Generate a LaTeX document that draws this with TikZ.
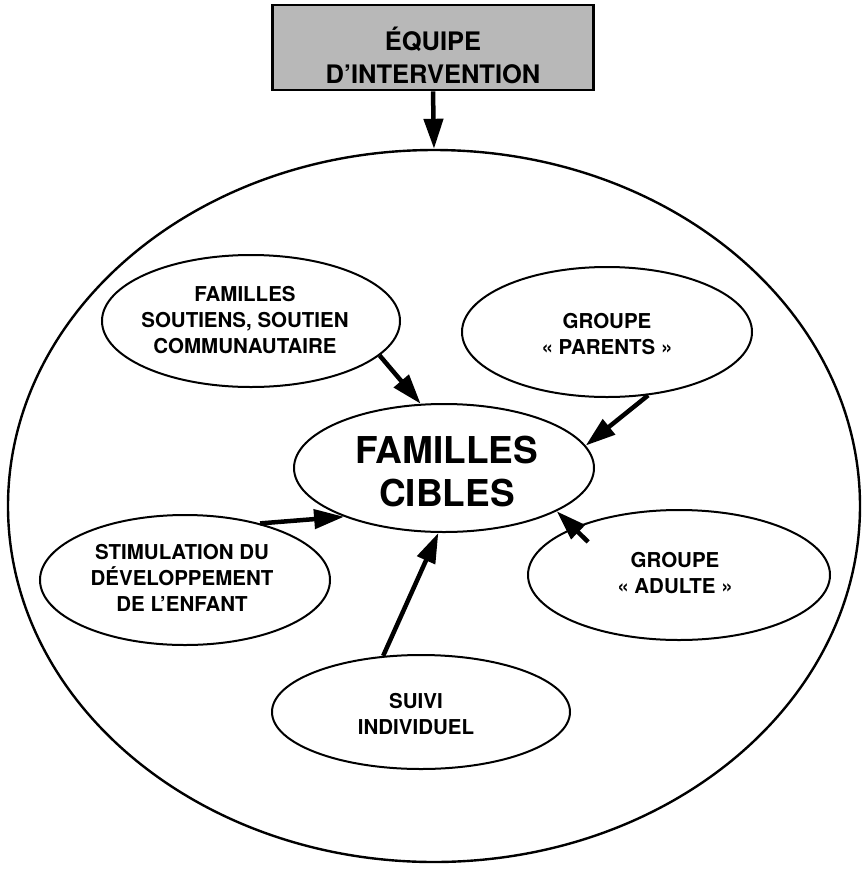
\documentclass[tikz,border=0pt]{standalone}
\usepackage{fontspec}
\setmainfont{TeX Gyre Heros}
\usetikzlibrary{shapes.geometric,arrows.meta,calc}
\begin{document}
\begin{tikzpicture}[x=1pt,y=-1pt,
  oval/.style={draw,line width=2pt,ellipse,inner sep=0pt},
  lbl/.style={font=\bfseries\fontsize{20.5}{26}\selectfont,align=center,inner sep=0pt},
  arr/.style={line width=4.5pt,-{Triangle[length=30pt,width=19pt]}},
]
\useasboundingbox (0,0) rectangle (865,871);
% top box
\node[draw,line width=2.8pt,fill=black!28,minimum width=321pt,minimum height=85pt] (team) at (433,47.5) {};
\node[font=\bfseries\fontsize{25.5}{33}\selectfont,align=center,inner sep=0pt] at (433,55) {ÉQUIPE\\D’INTERVENTION};
% big ellipse
\node[oval,line width=2.4pt,minimum width=852pt,minimum height=712pt] (big) at (434,506) {};
% sub ellipses
\node[oval,minimum width=298pt,minimum height=132pt] (sout) at (251,321) {};
\node[lbl] at (245,320) {FAMILLES\\SOUTIENS, SOUTIEN\\COMMUNAUTAIRE};
\node[oval,minimum width=290pt,minimum height=130pt] (par) at (607,332) {};
\node[lbl] at (607,334) {GROUPE\\« PARENTS »};
\node[oval,minimum width=300pt,minimum height=128pt] (cib) at (444,468) {};
\node[font=\bfseries\fontsize{37}{43}\selectfont,align=center,inner sep=0pt] at (447,472) {FAMILLES\\CIBLES};
\node[oval,minimum width=290pt,minimum height=130pt] (stim) at (185,580) {};
\node[lbl] at (182,578) {STIMULATION DU\\DÉVELOPPEMENT\\DE L’ENFANT};
\node[oval,minimum width=302pt,minimum height=130pt] (adu) at (679,575) {};
\node[lbl] at (675,573) {GROUPE\\« ADULTE »};
\node[oval,minimum width=298pt,minimum height=114pt] (sui) at (421,712) {};
\node[lbl] at (416,714) {SUIVI\\INDIVIDUEL};
% arrows
\draw[arr] (team.south) -- (big.north);
\draw[arr] (sout.-15) -- (cib.110);
\draw[arr] (par.-57) -- (cib.9);
\draw[arr] (stim.37) -- (cib.206);
\draw[arr] ($(adu.center)!0.78!(adu.160)$) -- (cib.-21);
\draw[arr] (sui.124) -- (cib.-95);
\end{tikzpicture}
\end{document}
